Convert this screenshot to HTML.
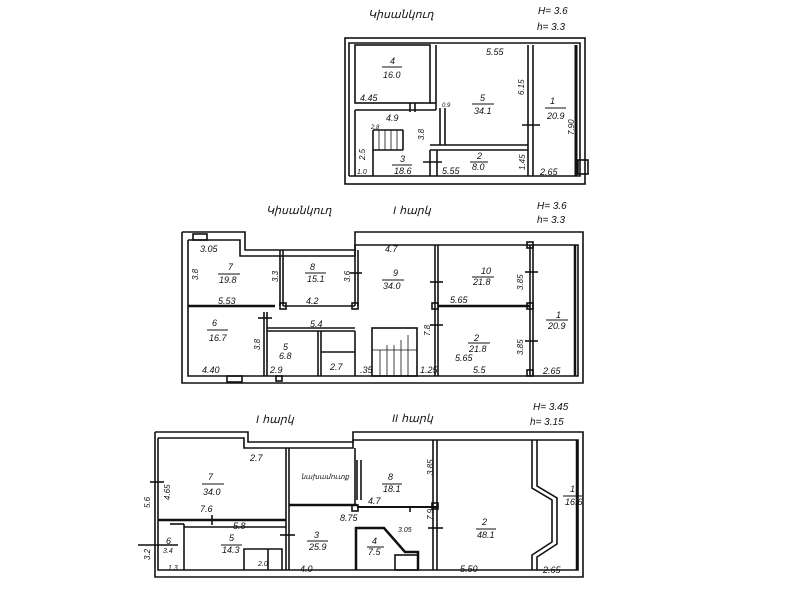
<!DOCTYPE html>
<html><head><meta charset="utf-8"><style>
html,body{margin:0;padding:0;background:#fff;width:800px;height:600px;overflow:hidden}
svg text{font-family:"Liberation Sans",sans-serif;font-style:italic;fill:#111}
</style></head><body>
<svg width="800" height="600" viewBox="0 0 800 600" xmlns="http://www.w3.org/2000/svg">
<g stroke="#111" fill="none" stroke-width="1.6">
<!-- PLAN 1 -->
<rect x="345" y="38" width="240" height="146"/>
<polyline points="349,176 349,43 580,43 580,176 349,176"/>
<rect x="355" y="45" width="75" height="58"/>
<line x1="436" y1="45" x2="436" y2="110"/><line x1="430" y1="103" x2="436" y2="103"/>
<line x1="355" y1="110" x2="436" y2="110"/>
<line x1="355" y1="110" x2="355" y2="176"/>
<line x1="373" y1="130" x2="373" y2="176"/>
<line x1="373" y1="130" x2="403" y2="130"/>
<line x1="403" y1="130" x2="403" y2="150"/>
<line x1="373" y1="150" x2="403" y2="150"/>
<g stroke-width="0.8"><line x1="379" y1="130" x2="379" y2="150"/><line x1="385" y1="130" x2="385" y2="150"/><line x1="391" y1="130" x2="391" y2="150"/><line x1="397" y1="130" x2="397" y2="150"/></g>
<line x1="440" y1="108" x2="440" y2="145"/><line x1="445" y1="108" x2="445" y2="145"/>
<line x1="430" y1="145" x2="528" y2="145"/><line x1="430" y1="150" x2="528" y2="150"/>
<line x1="430" y1="150" x2="430" y2="176"/><line x1="437" y1="150" x2="437" y2="176"/>
<line x1="528" y1="45" x2="528" y2="176"/><line x1="533" y1="45" x2="533" y2="176"/>
<line x1="576" y1="45" x2="576" y2="176" stroke-width="3"/>
<line x1="522" y1="125" x2="540" y2="125"/><line x1="423" y1="162" x2="442" y2="162"/>
<line x1="410" y1="103" x2="410" y2="112"/><line x1="415" y1="103" x2="415" y2="112"/>
<rect x="578" y="160" width="10" height="14"/>
<!-- PLAN 2 -->
<polyline points="182,232 245,232 245,250 355,250 355,232 583,232 583,383 182,383 182,232"/>
<polyline points="188,240 240,240 240,256 355,256 355,245 578,245 578,376 188,376 188,240"/>
<line x1="188" y1="306" x2="275" y2="306" stroke-width="2.5"/>
<line x1="280" y1="250" x2="280" y2="306"/><line x1="283" y1="250" x2="283" y2="306"/>
<line x1="283" y1="306" x2="355" y2="306"/>
<line x1="355" y1="250" x2="355" y2="306"/><line x1="358" y1="250" x2="358" y2="306"/>
<line x1="435" y1="245" x2="435" y2="376"/><line x1="438" y1="245" x2="438" y2="376"/>
<line x1="438" y1="306" x2="530" y2="306" stroke-width="2.5"/>
<line x1="530" y1="245" x2="530" y2="376"/><line x1="533" y1="245" x2="533" y2="376"/>
<line x1="575" y1="245" x2="575" y2="376" stroke-width="2.5"/>
<line x1="264" y1="312" x2="264" y2="376"/><line x1="267" y1="312" x2="267" y2="376"/>
<line x1="267" y1="328" x2="355" y2="328"/><line x1="267" y1="331" x2="355" y2="331"/>
<line x1="318" y1="331" x2="318" y2="376"/><line x1="321" y1="331" x2="321" y2="376"/>
<line x1="321" y1="352" x2="355" y2="352"/>
<line x1="355" y1="331" x2="355" y2="376"/>
<rect x="372" y="328" width="45" height="48"/>
<g stroke-width="0.8"><line x1="380" y1="350" x2="380" y2="376"/><line x1="387" y1="345" x2="387" y2="376"/><line x1="394" y1="345" x2="394" y2="376"/><line x1="401" y1="340" x2="401" y2="376"/><line x1="408" y1="335" x2="408" y2="376"/><line x1="372" y1="350" x2="417" y2="350"/></g>
<rect x="193" y="234" width="14" height="6"/><rect x="227" y="376" width="15" height="6"/><rect x="276" y="376" width="6" height="5"/>
<rect x="280" y="303" width="6" height="6"/><rect x="352" y="303" width="6" height="6"/><rect x="432" y="303" width="6" height="6"/><rect x="527" y="303" width="6" height="6"/><rect x="527" y="242" width="6" height="6"/><rect x="527" y="370" width="6" height="6"/>
<line x1="350" y1="273" x2="362" y2="273"/><line x1="430" y1="282" x2="443" y2="282"/><line x1="430" y1="325" x2="443" y2="325"/><line x1="525" y1="272" x2="538" y2="272"/><line x1="525" y1="341" x2="538" y2="341"/><line x1="258" y1="318" x2="272" y2="318"/>
<!-- PLAN 3 -->
<polyline points="155,432 248,432 248,442 353,442 353,432 583,432 583,577 155,577 155,432"/>
<polyline points="158,438 244,438 244,448 353,448 353,440 578,440 578,570 158,570 158,438"/>
<line x1="158" y1="520" x2="286" y2="520" stroke-width="2.5"/>
<line x1="170" y1="524" x2="184" y2="524"/><line x1="184" y1="524" x2="184" y2="570"/>
<line x1="184" y1="527" x2="286" y2="527"/>
<line x1="286" y1="448" x2="286" y2="570"/><line x1="289" y1="448" x2="289" y2="570"/>
<line x1="289" y1="505" x2="357" y2="505" stroke-width="2.5"/>
<line x1="355" y1="448" x2="355" y2="505"/><line x1="357" y1="460" x2="357" y2="500"/><line x1="361" y1="460" x2="361" y2="500"/>
<line x1="357" y1="507" x2="438" y2="507" stroke-width="2"/>
<line x1="433" y1="440" x2="433" y2="570"/><line x1="437" y1="440" x2="437" y2="570"/>
<polyline points="356,570 356,528 384,528 405,552 418,552 418,570" stroke-width="2.5"/>
<rect x="395" y="555" width="23" height="15"/>
<polyline points="532,440 532,488 552,500 552,542 532,555 532,570"/>
<polyline points="537,440 537,486 557,498 557,544 537,557 537,570"/>
<line x1="577" y1="440" x2="577" y2="570" stroke-width="2.5"/>
<polyline points="244,570 244,549 282,549 282,570"/>
<line x1="268" y1="549" x2="268" y2="570"/>
<rect x="352" y="505" width="6" height="6"/><rect x="432" y="503" width="6" height="6"/>
<line x1="150" y1="482" x2="164" y2="482"/><line x1="212" y1="515" x2="212" y2="525"/><line x1="138" y1="545" x2="178" y2="545"/><line x1="280" y1="535" x2="295" y2="535"/><line x1="428" y1="528" x2="443" y2="528"/><line x1="410" y1="508" x2="410" y2="512"/>
</g>
<!-- fraction bars -->
<g stroke="#111" stroke-width="1">
<line x1="382" y1="67" x2="402" y2="67"/><line x1="472" y1="104" x2="494" y2="104"/><line x1="545" y1="108" x2="566" y2="108"/>
<line x1="392" y1="165" x2="412" y2="165"/><line x1="470" y1="162" x2="488" y2="162"/>
<line x1="218" y1="274" x2="240" y2="274"/><line x1="305" y1="273" x2="326" y2="273"/><line x1="382" y1="280" x2="404" y2="280"/>
<line x1="472" y1="277" x2="494" y2="277"/><line x1="546" y1="320" x2="568" y2="320"/><line x1="207" y1="330" x2="228" y2="330"/>
<line x1="468" y1="343" x2="490" y2="343"/><line x1="202" y1="484" x2="224" y2="484"/><line x1="382" y1="484" x2="402" y2="484"/>
<line x1="221" y1="545" x2="242" y2="545"/><line x1="307" y1="541" x2="328" y2="541"/><line x1="476" y1="529" x2="496" y2="529"/><line x1="563" y1="496" x2="582" y2="496"/><line x1="367" y1="547" x2="384" y2="547"/>
</g>
<g font-size="9">
<text x="368" y="18" font-size="11">Կիսանկուղ</text>
<text x="538" y="14" font-size="10">H= 3.6</text>
<text x="537" y="30" font-size="10">h= 3.3</text>
<text x="390" y="64">4</text><text x="383" y="78">16.0</text>
<text x="486" y="55">5.55</text><text x="360" y="101">4.45</text>
<text x="480" y="101">5</text><text x="474" y="114">34.1</text>
<text x="550" y="104">1</text><text x="547" y="119">20.9</text>
<text x="386" y="121">4.9</text><text x="371" y="129" font-size="6">2.8</text>
<text x="400" y="162">3</text><text x="394" y="174">18.6</text>
<text x="477" y="159">2</text><text x="472" y="170">8.0</text>
<text x="442" y="174">5.55</text><text x="540" y="175">2.65</text>
<text x="357" y="174" font-size="7">1.0</text>
<text x="442" y="107" font-size="6">0.9</text>
<text x="266" y="214" font-size="11">Կիսանկուղ</text>
<text x="393" y="214" font-size="11">I հարկ</text>
<text x="537" y="209" font-size="10">H= 3.6</text>
<text x="537" y="223" font-size="10">h= 3.3</text>
<text x="200" y="252">3.05</text><text x="228" y="270">7</text><text x="219" y="283">19.8</text>
<text x="218" y="304">5.53</text><text x="310" y="270">8</text><text x="307" y="282">15.1</text>
<text x="306" y="304">4.2</text><text x="385" y="252">4.7</text>
<text x="393" y="276">9</text><text x="383" y="289">34.0</text>
<text x="481" y="274">10</text><text x="473" y="285">21.8</text><text x="450" y="303">5.65</text>
<text x="556" y="318">1</text><text x="548" y="329">20.9</text>
<text x="212" y="326">6</text><text x="209" y="341">16.7</text>
<text x="202" y="373">4.40</text><text x="283" y="350">5</text><text x="279" y="359">6.8</text>
<text x="270" y="373">2.9</text><text x="330" y="370">2.7</text>
<text x="474" y="341">2</text><text x="469" y="352">21.8</text><text x="455" y="361">5.65</text><text x="473" y="373">5.5</text>
<text x="543" y="374">2.65</text><text x="310" y="327">5.4</text>
<text x="420" y="373">1.25</text><text x="360" y="373">.35</text>
<text x="256" y="423" font-size="11">I հարկ</text>
<text x="392" y="422" font-size="11">II հարկ</text>
<text x="533" y="410" font-size="10">H= 3.45</text>
<text x="530" y="425" font-size="10">h= 3.15</text>
<text x="250" y="461">2.7</text><text x="208" y="480">7</text><text x="203" y="495">34.0</text>
<text x="200" y="512">7.6</text><text x="233" y="529">5.8</text>
<text x="229" y="541">5</text><text x="222" y="553">14.3</text>
<text x="166" y="544">6</text><text x="163" y="553" font-size="7">3.4</text>
<text x="301" y="479" font-size="7">նախամուտք</text>
<text x="388" y="480">8</text><text x="383" y="492">18.1</text><text x="368" y="504">4.7</text>
<text x="340" y="521">8.75</text><text x="314" y="538">3</text><text x="309" y="550">25.9</text>
<text x="372" y="544">4</text><text x="368" y="555">7.5</text><text x="398" y="532" font-size="7">3.05</text>
<text x="482" y="525">2</text><text x="477" y="538">48.1</text>
<text x="570" y="492">1</text><text x="565" y="505">16.6</text>
<text x="460" y="572">5.50</text><text x="543" y="573">2.65</text>
<text x="300" y="572">4.0</text><text x="258" y="566" font-size="7">2.0</text>
<text x="168" y="570" font-size="7">1.3</text>
<g font-size="8">
<text x="150" y="508" transform="rotate(-90 150 508)">5.6</text>
<text x="150" y="560" transform="rotate(-90 150 560)">3.2</text>
<text x="170" y="500" transform="rotate(-90 170 500)">4.65</text>
<text x="433" y="520" transform="rotate(-90 433 520)">7.9</text>
<text x="433" y="475" transform="rotate(-90 433 475)">3.85</text>
<text x="198" y="280" transform="rotate(-90 198 280)">3.8</text>
<text x="278" y="282" transform="rotate(-90 278 282)">3.3</text>
<text x="350" y="282" transform="rotate(-90 350 282)">3.6</text>
<text x="523" y="290" transform="rotate(-90 523 290)">3.85</text>
<text x="523" y="355" transform="rotate(-90 523 355)">3.85</text>
<text x="260" y="350" transform="rotate(-90 260 350)">3.8</text>
<text x="430" y="336" transform="rotate(-90 430 336)">7.8</text>
<text x="524" y="95" transform="rotate(-90 524 95)">6.15</text>
<text x="574" y="135" transform="rotate(-90 574 135)">7.90</text>
<text x="365" y="160" transform="rotate(-90 365 160)">2.5</text>
<text x="424" y="140" transform="rotate(-90 424 140)">3.8</text>
<text x="525" y="170" transform="rotate(-90 525 170)">1.45</text>
</g>
</g>
</svg>
</body></html>
